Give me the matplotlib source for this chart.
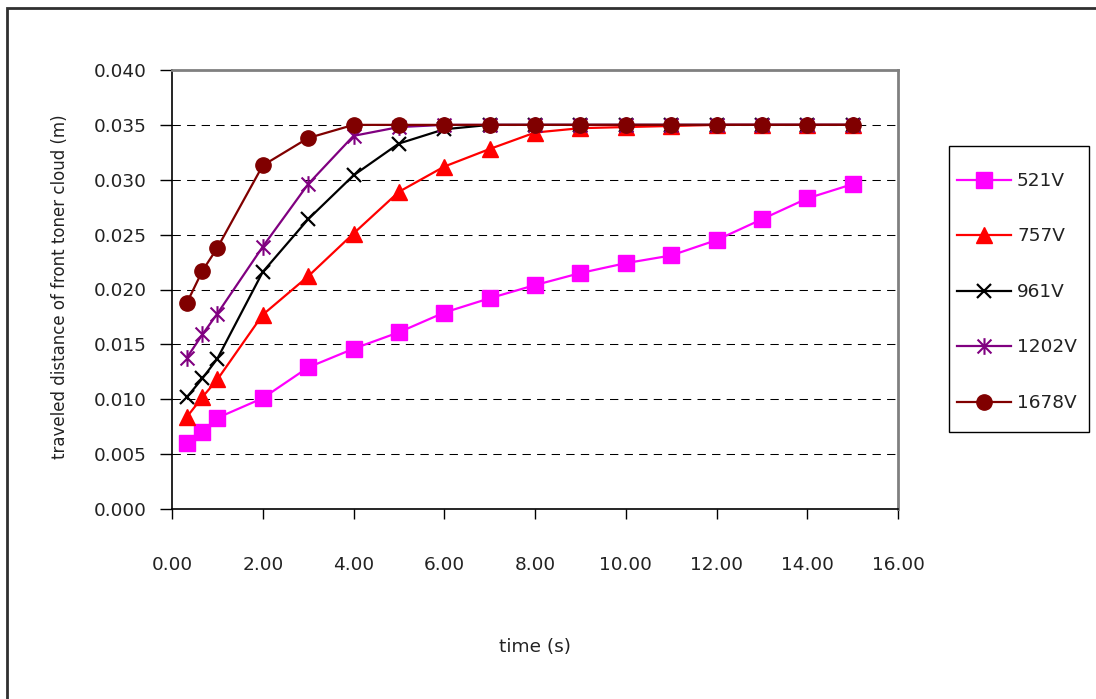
import matplotlib
matplotlib.use('Agg')
import matplotlib.pyplot as plt
from matplotlib.path import Path
from matplotlib.patches import Rectangle

plt.rcParams['font.family'] = ['DejaVu Sans']

# time (s)
time = [0.33, 0.67, 1, 2, 3, 4, 5, 6, 7, 8, 9, 10, 11, 12, 13, 14, 15]

# traveled distance (m) for each voltage
d521 = [0.0060, 0.0070, 0.0083, 0.0101, 0.0129, 0.0146, 0.0161, 0.0179, 0.0192,
        0.0204, 0.0215, 0.0224, 0.0231, 0.0245, 0.0264, 0.0283, 0.0296]
d757 = [0.0084, 0.0102, 0.0118, 0.0177, 0.0212, 0.0251, 0.0289, 0.0312, 0.0328,
        0.0343, 0.0347, 0.0348, 0.0349, 0.0350, 0.0350, 0.0350, 0.0350]
d961 = [0.0102, 0.0119, 0.0137, 0.0216, 0.0264, 0.0304, 0.0333, 0.0346, 0.0350,
        0.0350, 0.0350, 0.0350, 0.0350, 0.0350, 0.0350, 0.0350, 0.0350]
d1202 = [0.0138, 0.0159, 0.0178, 0.0239, 0.0296, 0.0340, 0.0348, 0.0350, 0.0350,
         0.0350, 0.0350, 0.0350, 0.0350, 0.0350, 0.0350, 0.0350, 0.0350]
d1678 = [0.0188, 0.0217, 0.0238, 0.0313, 0.0338, 0.0350, 0.0350, 0.0350, 0.0350,
         0.0350, 0.0350, 0.0350, 0.0350, 0.0350, 0.0350, 0.0350, 0.0350]

labels = ['521V', '757V', '961V', '1202V', '1678V']

# excel style star: an x with a vertical bar
star = Path([(-1, -1), (1, 1), (-1, 1), (1, -1), (0, -1.2), (0, 1.2)],
            [Path.MOVETO, Path.LINETO, Path.MOVETO, Path.LINETO, Path.MOVETO, Path.LINETO])

W, H = 1096, 699
fig = plt.figure(figsize=(W / 100, H / 100), dpi=100)
ax = fig.add_axes([172 / W, 1 - 509 / H, (898 - 172) / W, (509 - 70) / H])

# outer chart border (right and bottom are cut off in the reference)
fig.patches.append(Rectangle((7 / W, -0.1), 1.2, 1 - 8 / H + 0.1,
                             transform=fig.transFigure, fill=False,
                             edgecolor='#303030', linewidth=2))

ax.plot(time, d521, color='#ff00ff', lw=1.6, marker='s', ms=11, label=labels[0])
ax.plot(time, d757, color='#ff0000', lw=1.6, marker='^', ms=11.5, label=labels[1])
ax.plot(time, d961, color='black', lw=1.6, marker='x', ms=10.5, mew=1.6, label=labels[2])
ax.plot(time, d1202, color='#800080', lw=1.6, marker=star, ms=12, mew=1.5, label=labels[3])
ax.plot(time, d1678, color='#800000', lw=1.6, marker='o', ms=11, label=labels[4])

ax.set_xlim(0, 16)
ax.set_ylim(0, 0.04)
ax.set_xticks(range(0, 17, 2))
ax.set_xticklabels(['%.2f' % v for v in range(0, 17, 2)])
ax.set_yticks([i * 0.005 for i in range(9)])
ax.set_yticklabels(['%.3f' % (i * 0.005) for i in range(9)])
ax.tick_params(axis='x', direction='out', length=7, width=1, pad=27, labelsize=13.3)
ax.tick_params(axis='y', direction='out', length=8.5, width=1, pad=10, labelsize=13.3)
for lab in ax.get_xticklabels() + ax.get_yticklabels():
    lab.set_color('#222222')

for y in [i * 0.005 for i in range(1, 8)]:
    ax.axhline(y, color='black', lw=0.75, linestyle=(0, (8, 6)), zorder=0.5)

ax.spines['left'].set_color('black')
ax.spines['bottom'].set_color('black')
ax.spines['left'].set_linewidth(1.2)
ax.spines['bottom'].set_linewidth(1.2)
ax.spines['top'].set_color('#808080')
ax.spines['right'].set_color('#808080')
ax.spines['top'].set_linewidth(2)
ax.spines['right'].set_linewidth(2)

fig.text(60 / W, 1 - 287 / H, 'traveled distance of front toner cloud (m)',
         rotation=90, ha='center', va='center', fontsize=12, color='#222222')
fig.text(535 / W, 1 - 647 / H, 'time (s)', ha='center', va='center',
         fontsize=13.3, color='#222222')

# legend frame drawn by hand so the padding can match
ax.add_patch(Rectangle((949 / W, 1 - 432 / H), 140 / W, 286 / H,
                       transform=fig.transFigure, clip_on=False, fill=True,
                       facecolor='white', edgecolor='black', linewidth=1, zorder=4))
leg = ax.legend(loc='upper left', bbox_to_anchor=(957 / W, 1 - 172 / H),
                bbox_transform=fig.transFigure, frameon=False,
                fontsize=13.3, labelspacing=2.03, handlelength=2.9, handletextpad=0.35,
                borderpad=0, borderaxespad=0)
leg.set_zorder(5)
for t in leg.get_texts():
    t.set_color('#222222')

plt.savefig('out.png', dpi=100)
print('*')
